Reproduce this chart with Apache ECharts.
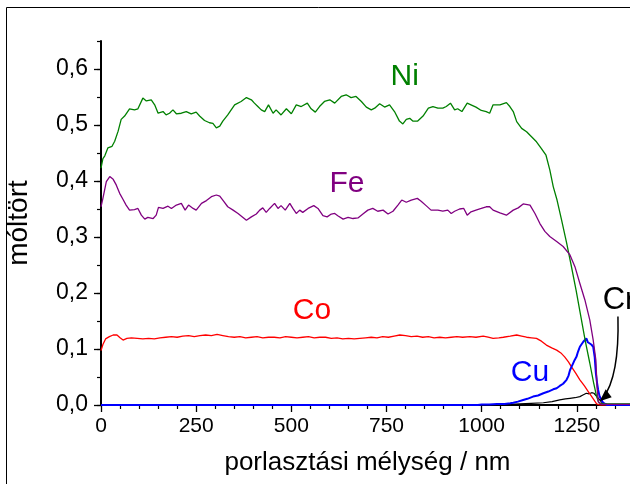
<!DOCTYPE html>
<html><head><meta charset="utf-8">
<script src="https://cdn.jsdelivr.net/npm/echarts@6/dist/echarts.min.js"></script>
<style>html,body{margin:0;padding:0;background:#fff}#c{width:630px;height:484px}</style>
</head><body><div id="c"></div>
<script>
// depth (nm) and mole fraction values
const niDepth = [0,5,10,18,29,36,45,53,62,75,88,97,110,119,132,141,150,163,171,180,189,198,211,224,237,250,259,272,285,294,303,312,320,333,351,368,382,395,403,412,421,430,440,452,460,473,487,500,513,526,542,552,563,574,587,601,614,631,644,657,670,684,697,710,719,732,745,758,771,784,793,802,811,819,832,846,860,872,885,898,907,918,929,937,948,962,972,985,999,1012,1021,1030,1048,1065,1074,1083,1092,1105,1118,1131,1144,1157,1169,1179,1188,1198,1210,1223,1235,1248,1260,1272,1284,1294,1302,1308,1320,1400];
const niVal = [0.423,0.440,0.445,0.459,0.462,0.471,0.489,0.510,0.516,0.529,0.527,0.529,0.548,0.543,0.545,0.536,0.521,0.524,0.518,0.521,0.527,0.520,0.521,0.524,0.520,0.523,0.516,0.508,0.504,0.503,0.495,0.498,0.507,0.518,0.536,0.542,0.549,0.545,0.539,0.533,0.527,0.524,0.536,0.521,0.527,0.518,0.529,0.520,0.536,0.533,0.539,0.529,0.523,0.533,0.542,0.545,0.539,0.551,0.554,0.549,0.551,0.542,0.532,0.527,0.530,0.538,0.532,0.536,0.524,0.507,0.502,0.510,0.512,0.507,0.507,0.516,0.530,0.533,0.530,0.530,0.533,0.539,0.527,0.529,0.524,0.539,0.536,0.532,0.526,0.524,0.521,0.536,0.536,0.540,0.533,0.524,0.506,0.494,0.488,0.479,0.470,0.458,0.446,0.420,0.390,0.366,0.330,0.290,0.250,0.205,0.160,0.115,0.075,0.040,0.015,0.004,0.002,0.002];

const feDepth = [0,5,14,23,32,40,49,58,66,75,88,97,106,115,123,137,145,151,163,176,185,198,211,221,230,242,250,264,277,290,303,312,323,333,347,360,373,382,395,408,417,425,434,443,456,465,473,484,496,504,513,522,530,544,559,570,583,594,605,614,622,636,649,662,675,688,701,714,727,741,754,767,780,790,802,815,831,841,854,867,885,898,911,920,929,942,953,962,972,985,999,1012,1021,1030,1048,1065,1083,1096,1109,1127,1140,1153,1166,1179,1197,1214,1232,1245,1258,1271,1284,1293,1300,1303,1306,1315,1400];
const feVal = [0.354,0.369,0.399,0.408,0.403,0.393,0.378,0.367,0.357,0.348,0.349,0.351,0.339,0.332,0.335,0.333,0.339,0.353,0.351,0.355,0.351,0.357,0.360,0.348,0.357,0.351,0.348,0.360,0.365,0.372,0.375,0.373,0.363,0.354,0.348,0.342,0.335,0.330,0.336,0.341,0.348,0.352,0.344,0.351,0.360,0.351,0.356,0.348,0.360,0.351,0.342,0.348,0.344,0.351,0.356,0.351,0.338,0.336,0.341,0.342,0.338,0.332,0.335,0.333,0.334,0.341,0.348,0.351,0.346,0.348,0.341,0.346,0.357,0.366,0.362,0.366,0.369,0.364,0.356,0.348,0.348,0.346,0.348,0.342,0.346,0.350,0.351,0.339,0.345,0.348,0.351,0.354,0.354,0.348,0.343,0.339,0.348,0.352,0.359,0.357,0.342,0.324,0.310,0.301,0.292,0.283,0.268,0.247,0.217,0.188,0.152,0.116,0.080,0.033,0.006,0.001,0.001];

const coDepth = [0,5,12,22,32,42,50,58,68,80,95,110,125,140,155,170,185,200,215,230,245,260,275,290,305,320,335,350,365,380,395,410,425,440,455,470,485,500,515,530,545,560,575,590,605,620,635,650,665,680,695,710,725,740,755,770,785,800,815,830,845,860,875,890,905,920,935,950,969,985,1004,1017,1030,1045,1057,1075,1092,1105,1118,1131,1144,1157,1170,1184,1197,1208,1218,1228,1236,1247,1258,1270,1280,1291,1302,1310,1400];
const coVal = [0.097,0.108,0.118,0.122,0.125,0.125,0.120,0.116,0.119,0.120,0.119,0.118,0.119,0.118,0.120,0.121,0.122,0.121,0.123,0.124,0.122,0.124,0.125,0.124,0.126,0.124,0.122,0.121,0.122,0.120,0.121,0.122,0.120,0.121,0.121,0.120,0.122,0.121,0.120,0.121,0.122,0.120,0.121,0.121,0.119,0.120,0.118,0.119,0.118,0.119,0.120,0.121,0.120,0.122,0.121,0.123,0.125,0.124,0.122,0.123,0.121,0.122,0.120,0.121,0.120,0.121,0.122,0.121,0.122,0.121,0.123,0.121,0.119,0.120,0.121,0.123,0.125,0.123,0.121,0.120,0.119,0.114,0.107,0.102,0.098,0.093,0.086,0.077,0.068,0.057,0.045,0.034,0.024,0.013,0.002,0.000,0.000];

const cuDepth = [0,990,1000,1020,1040,1060,1075,1083,1095,1109,1120,1135,1148,1162,1175,1188,1197,1205,1214,1223,1228,1232,1236,1240,1244,1249,1253,1258,1262,1267,1271,1275,1279,1284,1288,1293,1297,1300,1303,1306,1310,1315,1319,1323,1330,1400];
const cuVal = [0,0,0.001,0.001,0.002,0.002,0.003,0.004,0.006,0.009,0.011,0.015,0.017,0.021,0.024,0.028,0.030,0.034,0.038,0.045,0.052,0.062,0.068,0.074,0.080,0.086,0.095,0.104,0.108,0.113,0.110,0.119,0.112,0.114,0.108,0.104,0.085,0.057,0.040,0.027,0.015,0.009,0.004,0.002,0,0];

const crDepth = [1040,1100,1130,1162,1185,1205,1220,1232,1245,1258,1266,1275,1282,1289,1295,1300,1305,1310,1315,1320,1330,1400];
const crVal = [0,0.002,0.003,0.004,0.006,0.009,0.011,0.012,0.013,0.015,0.018,0.021,0.020,0.022,0.021,0.018,0.013,0.009,0.005,0.003,0.001,0.001];

const seriesNames = ['Ni','Fe','Co','Cu','Cr'];
const seriesColors = ['#008000','#800080','#ff0000','#0000ff','#000000'];
const xTitle = 'porlasztási mélység / nm';
const yTitle = 'móltört';

const pairs = (d, v) => d.map((x, i) => [x, v[i]]);
const FONT = 'Arial, "Liberation Sans", sans-serif';

const chart = echarts.init(document.getElementById('c'), null, {renderer: 'canvas'});
// x axis runs 0..1500 nm (0.3808 px/nm); its right part falls outside the picture as in the reference
const opt = {
  animation: false,
  backgroundColor: '#fff',
  grid: {left: 101, top: 41, right: -42, bottom: 79, containLabel: false, outerBoundsMode: 'none'},
  xAxis: [{
    type: 'value', min: 0, max: 1500, interval: 250, position: 'bottom',
    axisLine: {lineStyle: {color: '#000', width: 1.6}},
    axisTick: {inside: false, length: 7, lineStyle: {color: '#000', width: 1.3}},
    minorTick: {show: true, splitNumber: 5, length: 4, lineStyle: {color: '#000', width: 1.2}},
    axisLabel: {fontSize: 21, color: '#000', fontFamily: FONT, margin: 11,
      formatter: v => String(Math.round(v))},
    splitLine: {show: false}
  }, {
    type: 'value', min: 0, max: 1500, interval: 50, position: 'top',
    axisLine: {lineStyle: {color: '#000', width: 2}},
    axisTick: {inside: true, length: 3, lineStyle: {color: '#000', width: 1}},
    axisLabel: {show: false}, splitLine: {show: false}
  }],
  yAxis: [{
    type: 'value', min: 0, max: 0.65, interval: 0.1, position: 'left',
    name: yTitle, nameLocation: 'middle', nameGap: 68, nameRotate: 90,
    nameTextStyle: {fontSize: 28, color: '#000', fontFamily: FONT},
    axisLine: {show: true, lineStyle: {color: '#000', width: 2}},
    axisTick: {inside: false, length: 7, lineStyle: {color: '#000', width: 1.3}},
    axisLabel: {fontSize: 23, color: '#000', fontFamily: FONT, margin: 13, showMaxLabel: false,
      formatter: v => v.toFixed(1).replace('.', ',')},
    splitLine: {show: false}
  }, {
    type: 'value', min: 0, max: 0.65, interval: 0.05, position: 'left',
    axisLine: {show: false},
    axisTick: {inside: false, length: 4, lineStyle: {color: '#000', width: 1.2}},
    axisLabel: {show: false}, splitLine: {show: false}
  }],
  series: [
    {name: 'Cr', type: 'line', data: pairs(crDepth, crVal), showSymbol: false, lineStyle: {color: seriesColors[4], width: 1.2}, z: 2},
    {name: 'Co', type: 'line', data: pairs(coDepth, coVal), showSymbol: false, lineStyle: {color: seriesColors[2], width: 1.3}, z: 3},
    {name: 'Cu', type: 'line', data: pairs(cuDepth, cuVal), showSymbol: false, lineStyle: {color: seriesColors[3], width: 2}, z: 4},
    {name: 'Ni', type: 'line', data: pairs(niDepth, niVal), showSymbol: false, lineStyle: {color: seriesColors[0], width: 1.3}, z: 5},
    {name: 'Fe', type: 'line', data: pairs(feDepth, feVal), showSymbol: false, lineStyle: {color: seriesColors[1], width: 1.3}, z: 6}
  ]
};
chart.setOption(opt);

// label anchors in data coordinates [depth, fraction]
const labelPos = {Ni: [798, 0.586], Fe: [646, 0.395], Co: [554, 0.168], Cu: [1127, 0.057], Cr: [1318, 0.1875]};
const titlePos = [700, -0.104]; // centre of the x axis title (the axis centre lies outside the picture)
const px = p => chart.convertToPixel({xAxisIndex: 0, yAxisIndex: 0}, p);
const graphics = [];
seriesNames.forEach((n, i) => {
  const p = px(labelPos[n]);
  graphics.push({type: 'text', x: p[0], y: p[1], z: 100,
    style: {text: n, fill: seriesColors[i], fontSize: n === 'Cr' ? 31 : 30, fontFamily: FONT,
      align: n === 'Cr' ? 'left' : 'center', verticalAlign: 'middle'}});
});
const tp = px(titlePos);
graphics.push({type: 'text', x: tp[0], y: tp[1], z: 100,
  style: {text: xTitle, fill: '#000', fontSize: 26, fontFamily: FONT, align: 'center', verticalAlign: 'middle'}});
// curved arrow from Cr label to the Cr peak
const a0 = px([1358, 0.158]), a1 = px([1362, 0.05]), a2 = px([1318, 0.012]);
graphics.push({type: 'bezierCurve', z: 100, shape: {x1: a0[0], y1: a0[1], cpx1: a1[0], cpy1: a1[1], x2: a2[0], y2: a2[1]},
  style: {stroke: '#000', lineWidth: 1.5, fill: null}});
graphics.push({type: 'polygon', z: 100, shape: {points: [[a2[0] - 3, a2[1] + 3], [a2[0] + 9, a2[1] - 1], [a2[0] + 3, a2[1] - 9]]},
  style: {fill: '#000'}});
// outer frame of the figure
graphics.push({type: 'rect', z: 100, shape: {x: 6.5, y: 7.5, width: 700, height: 600}, style: {stroke: '#000', lineWidth: 1, fill: null}});
chart.setOption({graphic: graphics});
</script></body></html>
